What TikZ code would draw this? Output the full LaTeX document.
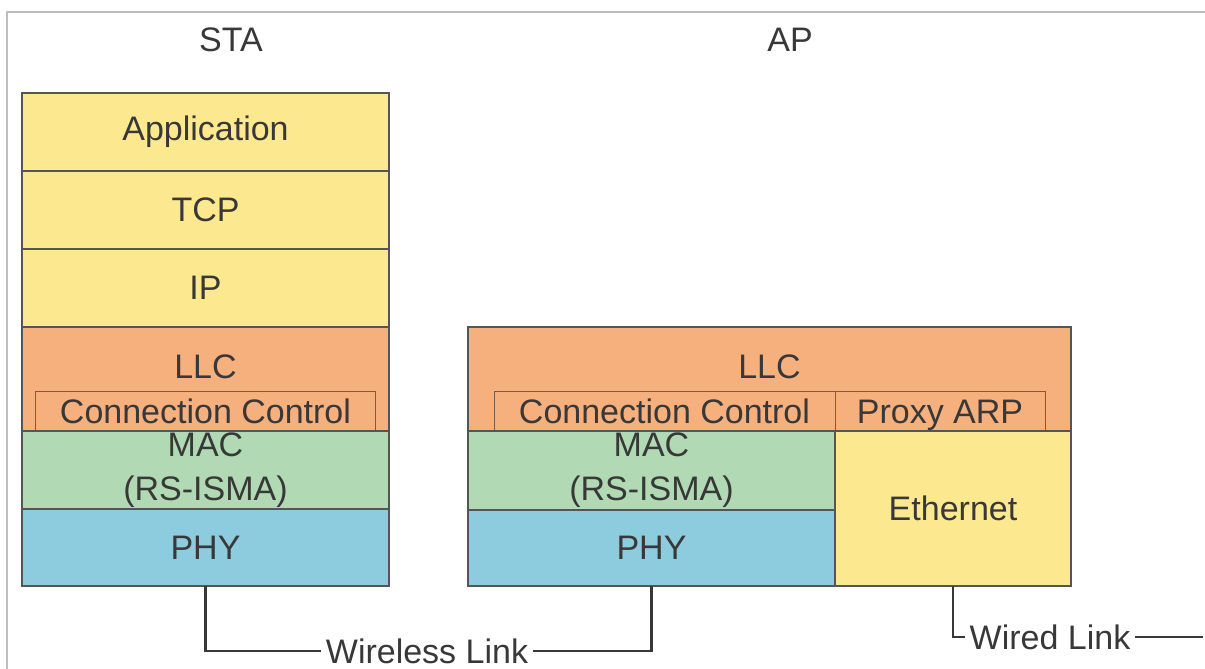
\documentclass[tikz,border=0pt]{standalone}
\usepackage{fontspec}
\setmainfont{Liberation Sans}
\usetikzlibrary{positioning}
\definecolor{amarillo}{HTML}{FCE98F}
\definecolor{naranja}{HTML}{F6B07E}
\definecolor{verde}{HTML}{B1DAB4}
\definecolor{azul}{HTML}{8CCCDE}
\definecolor{borde}{HTML}{555555}
\definecolor{subborde}{HTML}{7A5A48}
\definecolor{texto}{HTML}{383838}
\definecolor{marco}{HTML}{BEBEBE}
\begin{document}
\begin{tikzpicture}[x=0.5pt, y=-0.5pt,
        every node/.style={font=\fontsize{17}{22}\selectfont, text=texto, inner sep=0pt, outer sep=0pt, align=center},
        capa/.style={draw=borde, line width=0.8pt, minimum width=183.5pt, minimum height=39pt},
        sub/.style={draw=subborde, line width=0.5pt, minimum height=20pt, text height=13.5pt, text depth=1pt},
        enlace/.style={draw=texto, line width=1.3pt},
        rotulo/.style={inner xsep=2.5pt}
    ]
    \useasboundingbox (0,0) rectangle (1205,669);
    \draw [marco, line width=1pt] (7,669) |- (1205,12);

    % STA
    \node (sta) at (231,40) {STA};
    \node (sta-app) [capa, fill=amarillo, anchor=north west] at (22,93) {Application};
    \node (sta-tcp) [capa, fill=amarillo, below=0pt of sta-app] {TCP};
    \node (sta-ip) [capa, fill=amarillo, below=0pt of sta-tcp] {IP};
    \node (sta-llc) [capa, fill=naranja, minimum height=52pt, below=0pt of sta-ip] {};
    \node (sta-llc-t) at ([yshift=-20pt]sta-llc.north) {LLC};
    \node (sta-cc) [sub, minimum width=170pt, anchor=south] at (sta-llc.south) {Connection Control};
    \node (sta-mac) [capa, fill=verde, below=0pt of sta-llc] {MAC\\(RS-ISMA)};
    \node (sta-phy) [capa, fill=azul, minimum height=38.5pt, below=0pt of sta-mac] {PHY};

    % AP
    \node (ap) at (790,40) {AP};
    \node (ap-llc) [capa, fill=naranja, minimum width=301.5pt, minimum height=52pt, anchor=north west] at (468,327) {};
    \node (ap-llc-t) at ([yshift=-20pt]ap-llc.north) {LLC};
    \node (ap-cc) [sub, minimum width=170.5pt, anchor=south west] at (494,431) {Connection Control};
    \node (ap-arp) [sub, minimum width=105pt, right=0pt of ap-cc] {Proxy ARP};
    \node (ap-mac) [capa, fill=verde, minimum height=39.5pt, anchor=north west] at (ap-llc.south west) {MAC\\(RS-ISMA)};
    \node (ap-phy) [capa, fill=azul, minimum height=38pt, below=0pt of ap-mac] {PHY};
    \node (ap-eth) [capa, fill=amarillo, minimum width=118pt, minimum height=77.5pt, anchor=north east] at (ap-llc.south east) {Ethernet};

    % enlaces
    \node (inal) [rotulo] at (427,651) {Wireless Link};
    \node (cable) [rotulo] at (1050,637) {Wired Link};
    \coordinate (cable-fin) at (1203,637);

    \draw [enlace] (sta-phy.south) |- (inal);
    \draw [enlace] (inal) -| (ap-phy.south);
    \draw [enlace] (ap-eth.south) |- (cable);
    \draw [enlace] (cable) -- (cable-fin);
\end{tikzpicture}
\end{document}
